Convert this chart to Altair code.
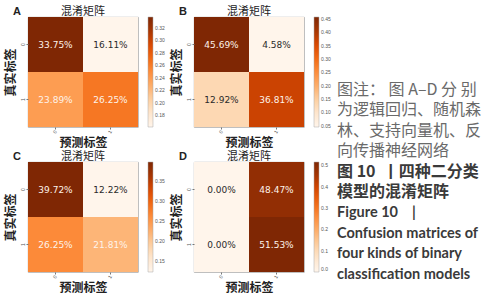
import altair as alt
import pandas as pd

# ---------------- data ----------------
panel_letters = ["A", "B", "C", "D"]
true_labels = ["0", "0", "1", "1"]
pred_labels = ["0", "1", "0", "1"]
values_A = [0.3375, 0.1611, 0.2389, 0.2625]
values_B = [0.4569, 0.0458, 0.1292, 0.3681]
values_C = [0.3972, 0.1222, 0.2625, 0.2181]
values_D = [0.0000, 0.4847, 0.0000, 0.5153]
legend_ticks_A = [0.18, 0.20, 0.22, 0.24, 0.26, 0.28, 0.30, 0.32]
legend_ticks_B = [0.05, 0.10, 0.15, 0.20, 0.25, 0.30, 0.35, 0.40, 0.45]
legend_ticks_C = [0.15, 0.20, 0.25, 0.30, 0.35]
legend_ticks_D = [0.0, 0.1, 0.2, 0.3, 0.4, 0.5]
legend_formats = [".2f", ".2f", ".2f", ".1f"]
panel_title = "混淆矩阵"

# ColorBrewer "Oranges" (matplotlib colormap), lightest to darkest
oranges = ["#fff5eb", "#fee6ce", "#fdd0a2", "#fdae6b", "#fd8d3c",
           "#f16913", "#d94801", "#a63603", "#7f2704"]

NB = "\u00a0"
caption_lines = [
    "图注：" + NB + "图" + NB + "A–D" + NB + "分" + NB + "别",
    "为逻辑回归、随机森",
    "林、支持向量机、反",
    "向传播神经网络",
    "图" + NB + "10" + NB + NB + "丨四种二分类",
    "模型的混淆矩阵",
    "Figure 10" + NB * 4 + "|",
    "Confusion matrices of",
    "four kinds of binary",
    "classification models",
]
caption_kinds = ["note"] * 4 + ["title_cn"] * 2 + ["title_en"] * 4

CJK = "Noto Sans CJK SC"
W = 110
H = 110


def panel(letter, vals, ticks, fmt):
    df = pd.DataFrame({"true": true_labels, "pred": pred_labels, "value": vals})
    base = alt.Chart(df)
    x = alt.X(
        "pred:O",
        axis=alt.Axis(
            title="预测标签", titleFont=CJK, titleFontSize=12, titleFontWeight="bold",
            titleColor="#222", titlePadding=4, labelFontSize=5, labelAngle=300,
            labelColor="#555", tickSize=2, tickColor="#777", domain=False, labelPadding=1,
        ),
    )
    y = alt.Y(
        "true:O",
        axis=alt.Axis(
            title="真实标签", titleFont=CJK, titleFontSize=12, titleFontWeight="bold",
            titleColor="#222", titlePadding=3, labelFontSize=5, labelAngle=270,
            labelColor="#555", tickSize=2, tickColor="#777", domain=False, labelPadding=1,
        ),
    )
    rect = base.mark_rect().encode(
        x=x,
        y=y,
        color=alt.Color(
            "value:Q",
            scale=alt.Scale(range=oranges, zero=False, nice=False, interpolate="rgb"),
            legend=alt.Legend(
                title=None, orient="right", offset=10, gradientLength=H,
                gradientThickness=5, labelFontSize=5, labelColor="#555",
                values=ticks, format=fmt, labelOverlap=False,
                gradientStrokeColor="#aaa", gradientStrokeWidth=0.5,
            ),
        ),
    )
    text = (
        base.transform_joinaggregate(vmin="min(value)", vmax="max(value)")
        .transform_calculate(norm="(datum.value - datum.vmin) / (datum.vmax - datum.vmin)")
        .mark_text(fontSize=9, font="DejaVu Sans")
        .encode(
            x="pred:O",
            y="true:O",
            text=alt.Text("value:Q", format=".2%"),
            color=alt.condition("datum.norm > 0.3", alt.value("#fdf3ea"), alt.value("#2a2a2a")),
        )
    )
    head = alt.Chart(alt.Data(values=[{"t": letter, "h": panel_title}]))
    tag = head.mark_text(
        fontSize=11, fontWeight="bold", font="Liberation Sans", color="#222", align="center"
    ).encode(text="t:N", x=alt.value(-11), y=alt.value(-5))
    ttl = head.mark_text(
        fontSize=11, font=CJK, color="#222", align="center"
    ).encode(text="h:N", x=alt.value(W / 2), y=alt.value(-5))
    return alt.layer(rect, text, tag, ttl).properties(width=W, height=H)


pA = panel("A", values_A, legend_ticks_A, legend_formats[0])
pB = panel("B", values_B, legend_ticks_B, legend_formats[1])
pC = panel("C", values_C, legend_ticks_C, legend_formats[2])
pD = panel("D", values_D, legend_ticks_D, legend_formats[3])

row1 = alt.hconcat(pA, pB, spacing=3).resolve_scale(color="independent").resolve_legend(color="independent")
row2 = alt.hconcat(pC, pD, spacing=3).resolve_scale(color="independent").resolve_legend(color="independent")
left = alt.vconcat(row1, row2, spacing=0).resolve_scale(color="independent").resolve_legend(color="independent")

cap_df = pd.DataFrame({"line": list(range(len(caption_lines))), "text": caption_lines, "kind": caption_kinds})
cap_base = alt.Chart(cap_df)
# caption view starts where panel A's plot starts (~15 px down)
ypos = alt.Y("line:Q", scale=alt.Scale(domain=[-3.55, 10.24], reverse=True), axis=None)
cap_note = cap_base.transform_filter("datum.kind == 'note'").mark_text(
    font=CJK, fontSize=16, color="#6a6a6a", align="left", baseline="middle"
).encode(x=alt.value(0), y=ypos, text="text:N")
cap_cn = cap_base.transform_filter("datum.kind == 'title_cn'").mark_text(
    font=CJK, fontSize=16, fontWeight="bold", color="#3a3a3a", align="left", baseline="middle"
).encode(x=alt.value(0), y=ypos, text="text:N")
cap_en = cap_base.transform_filter("datum.kind == 'title_en'").mark_text(
    font="Lato", fontSize=14.5, fontWeight="bold", color="#3a3a3a", align="left", baseline="middle"
).encode(x=alt.value(0), y=ypos, text="text:N")
caption = alt.layer(cap_note, cap_cn, cap_en).properties(
    width=150, height=283, view=alt.ViewBackground(stroke="transparent")
)

chart = (
    alt.hconcat(left, caption, spacing=4)
    .resolve_scale(color="independent", y="independent")
    .resolve_legend(color="independent")
    .properties(padding={"left": 3, "top": 5, "right": 0, "bottom": 0}, background="white")
    .configure_view(stroke="#9a9a9a", strokeWidth=0.8)
    .configure_concat(spacing=3)
)

chart.save("out.html", embed_options={"renderer": "svg", "actions": False})
